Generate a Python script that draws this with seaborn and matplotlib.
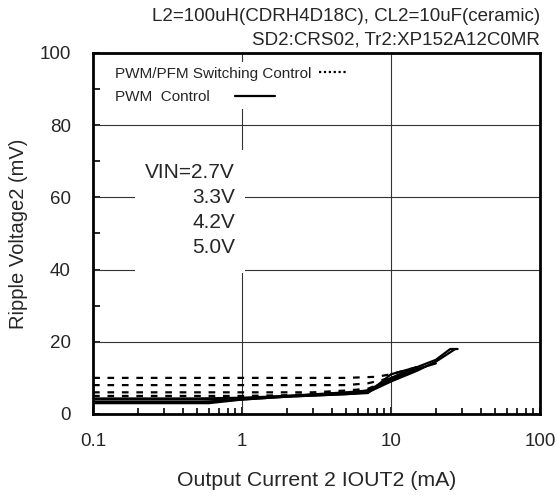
import matplotlib
matplotlib.use("Agg")
import matplotlib.pyplot as plt
import matplotlib.ticker as mticker
from matplotlib.lines import Line2D
from matplotlib.patches import Rectangle
import seaborn as sns
import pandas as pd

# PWM/PFM switching control (dotted), VIN = 2.7, 3.3, 4.2, 5.0 V
pfm_x = [
    [0.1, 1, 5, 8, 10, 15],
    [0.1, 1, 5, 7, 10, 15],
    [0.1, 1, 3, 5, 7, 10],
    [0.1, 1, 2, 5, 7, 10],
]
pfm_y = [
    [10.0, 10.0, 10.0, 10.3, 11.0, 13.0],
    [8.0, 8.0, 8.0, 8.5, 10.0, 12.5],
    [6.0, 6.0, 6.0, 6.5, 7.0, 9.5],
    [5.0, 5.0, 5.2, 6.0, 6.5, 9.5],
]

# PWM control (solid)
pwm_x = [
    [0.1, 0.5, 1, 2, 5, 7, 10, 15],
    [0.1, 0.5, 1, 2, 5, 7, 10, 15, 20],
    [0.1, 0.5, 1, 2, 5, 7, 10, 15, 20, 27],
    [0.1, 0.6, 1, 2, 5, 7, 10, 15, 20, 25, 28],
]
pwm_y = [
    [4.3, 4.3, 4.5, 5.0, 6.0, 6.5, 10.0, 13.0],
    [4.0, 4.0, 4.3, 5.0, 5.8, 6.5, 9.5, 12.5, 14.0],
    [3.3, 3.3, 4.0, 4.8, 5.5, 6.0, 9.0, 12.0, 14.5, 18.0],
    [3.0, 3.0, 4.0, 4.8, 5.5, 5.8, 11.0, 13.0, 15.0, 18.0, 18.0],
]

vin_labels = ["VIN=2.7V", "3.3V", "4.2V", "5.0V"]
x_ticks = [0.1, 1, 10, 100]
x_ticklabels = ["0.1", "1", "10", "100"]
y_ticks = [0, 20, 40, 60, 80, 100]

sns.set_style("white")
plt.rcParams['font.family'] = ['Liberation Sans', 'DejaVu Sans']

fig = plt.figure(figsize=(5.58, 4.98), dpi=100)
ax = fig.add_axes([0.1667, 0.1687, 0.801, 0.7249])

dotted = (0, (3, 3.5))
for xs, ys in zip(pfm_x, pfm_y):
    df = pd.DataFrame({'x': xs, 'y': ys})
    sns.lineplot(data=df, x='x', y='y', ax=ax, color='black', lw=1.6,
                 linestyle=dotted, estimator=None, sort=False, zorder=3)
for xs, ys in zip(pwm_x, pwm_y):
    df = pd.DataFrame({'x': xs, 'y': ys})
    sns.lineplot(data=df, x='x', y='y', ax=ax, color='black', lw=1.6,
                 estimator=None, sort=False, zorder=3)

ax.set_xscale('log')
ax.set_xlim(0.1, 100)
ax.set_ylim(0, 100)
ax.set_xticks(x_ticks)
ax.set_xticklabels(x_ticklabels)
ax.xaxis.set_minor_locator(mticker.LogLocator(base=10, subs=range(2, 10)))
ax.xaxis.set_minor_formatter(mticker.NullFormatter())
ax.set_yticks(y_ticks)
ax.yaxis.set_minor_locator(mticker.MultipleLocator(10))

ax.tick_params(axis='both', which='both', direction='in', color='black',
               labelsize=13.5, bottom=True, left=True, top=False, right=False)
ax.tick_params(axis='x', which='major', length=5, width=1.2, pad=14)
ax.tick_params(axis='x', which='minor', length=4, width=1.2)
ax.tick_params(axis='y', which='major', length=5, width=1.2, pad=16)
ax.tick_params(axis='y', which='minor', length=5, width=1.2)

for v in [1, 10]:
    ax.axvline(v, color='#333333', lw=0.8, zorder=1)
for h in [20, 40, 60, 80]:
    ax.axhline(h, color='#333333', lw=0.8, zorder=1)

for s in ax.spines.values():
    s.set_color('black')
    s.set_linewidth(2)

ax.set_xlabel('Output Current 2 IOUT2 (mA)', fontsize=15.3, labelpad=15)
ax.set_ylabel('Ripple Voltage2 (mV)', fontsize=14.5, labelpad=8)

fig.text(0.968, 0.966, 'L2=100uH(CDRH4D18C), CL2=10uF(ceramic)',
         ha='right', va='center', fontsize=13.5)
fig.text(0.968, 0.92, 'SD2:CRS02, Tr2:XP152A12C0MR',
         ha='right', va='center', fontsize=13.5)

# VIN label block on a white patch
ax.add_patch(Rectangle((0.094, 0.39), 0.246, 0.341, transform=ax.transAxes,
                       facecolor='white', edgecolor='none', zorder=2))
ax.text(0.318, 0.695, "\n".join(vin_labels), transform=ax.transAxes,
        ha='right', va='top', multialignment='right', fontsize=15,
        linespacing=1.40, zorder=4)

# legend entries
leg1 = ax.legend(handles=[Line2D([], [], color='black', lw=1.6, linestyle=(0, (1, 1.2)))],
                 labels=['PWM/PFM Switching Control'], markerfirst=False,
                 loc='upper left', bbox_to_anchor=(0.04, 0.975), frameon=True,
                 fontsize=11, handlelength=1.8, handletextpad=0.5,
                 borderpad=0.3, borderaxespad=0)
leg1.get_frame().set_edgecolor('none')
leg1.get_frame().set_facecolor('white')
leg1.get_frame().set_alpha(1)
ax.add_artist(leg1)
leg2 = ax.legend(handles=[Line2D([], [], color='black', lw=1.6)],
                 labels=['PWM  Control'], markerfirst=False,
                 loc='upper left', bbox_to_anchor=(0.04, 0.91), frameon=True,
                 fontsize=11, handlelength=2.6, handletextpad=1.65,
                 borderpad=0.3, borderaxespad=0)
leg2.get_frame().set_edgecolor('none')
leg2.get_frame().set_facecolor('white')
leg2.get_frame().set_alpha(1)

fig.savefig('out.png', dpi=100)
